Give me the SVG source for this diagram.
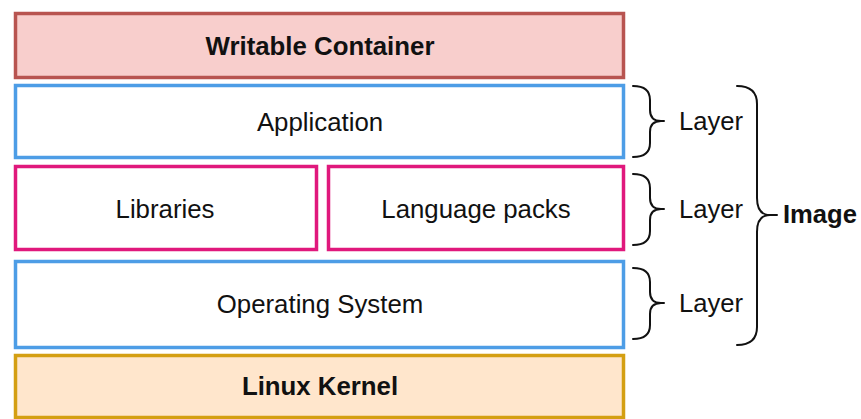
<svg xmlns="http://www.w3.org/2000/svg" width="861" height="419" viewBox="0 0 861 419">
  <style>
    .box { stroke-width: 3.5; }
    .lbl { font-family: "Liberation Sans", Arial, sans-serif; font-size: 25.8px; fill: #111; text-anchor: middle; }
    .bold { font-weight: bold; }
    .brace { fill: none; stroke: #111; stroke-width: 2; stroke-linecap: round; stroke-linejoin: round; }
    .side { font-family: "Liberation Sans", Arial, sans-serif; font-size: 25.6px; fill: #111; }
  </style>
  <rect width="861" height="419" fill="#ffffff"/>

  <g id="writable-container">
    <rect class="box" x="15.5" y="13.5" width="608" height="64" fill="#f8cecc" stroke="#b85450"/>
    <text class="lbl bold" x="320" y="55">Writable Container</text>
  </g>

  <g id="application">
    <rect class="box" x="15.5" y="85.5" width="608" height="72" fill="#ffffff" stroke="#4d9de6"/>
    <text class="lbl" x="320" y="131">Application</text>
  </g>

  <g id="libraries">
    <rect class="box" x="15.5" y="166.5" width="301" height="83" fill="#ffffff" stroke="#e0187c"/>
    <text class="lbl" x="165" y="218">Libraries</text>
  </g>

  <g id="language-packs">
    <rect class="box" x="328.5" y="166.5" width="295" height="83" fill="#ffffff" stroke="#e0187c"/>
    <text class="lbl" x="476" y="218">Language packs</text>
  </g>

  <g id="operating-system">
    <rect class="box" x="15.5" y="261.5" width="608" height="86" fill="#ffffff" stroke="#4d9de6"/>
    <text class="lbl" x="320" y="313">Operating System</text>
  </g>

  <g id="linux-kernel">
    <rect class="box" x="15.5" y="355.5" width="608" height="62" fill="#ffe6cc" stroke="#d49f12"/>
    <text class="lbl bold" x="320" y="395">Linux Kernel</text>
  </g>

  <g id="connectors">
    <!-- one brace per layer -->
    <path class="brace" d="M633,86 Q650,86 650,100 L650,110 Q650,121 661,121 L664,121 M661,121 Q650,121 650,132 L650,143 Q650,157 633,157"/>
    <path class="brace" d="M633,174 Q650,174 650,188 L650,198 Q650,209 661,209 L664,209 M661,209 Q650,209 650,220 L650,231 Q650,245 633,245"/>
    <path class="brace" d="M633,268 Q650,268 650,282 L650,292 Q650,303 661,303 L664,303 M661,303 Q650,303 650,314 L650,325 Q650,339 633,339"/>
    <!-- brace grouping all layers into the image -->
    <path class="brace" d="M737,86 Q757,86 757,104 L757,198 Q757,215 770,215 L777,215 M770,215 Q757,215 757,232 L757,327 Q757,345 737,345"/>
  </g>

  <g id="layer-labels">
    <text class="side" x="679" y="130">Layer</text>
    <text class="side" x="679" y="218">Layer</text>
    <text class="side" x="679" y="312">Layer</text>
  </g>

  <g id="image-label">
    <text class="side bold" x="783" y="223">Image</text>
  </g>
</svg>
